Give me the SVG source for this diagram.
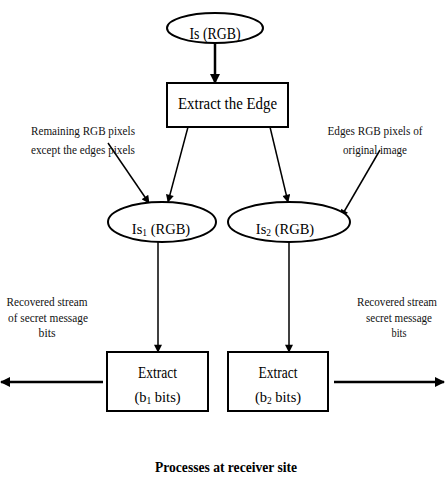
<svg xmlns="http://www.w3.org/2000/svg" width="445" height="479" viewBox="0 0 445 479">
<style>
  .shape { fill: #fff; stroke: #000; stroke-width: 2; }
  .main { font-family: "Liberation Serif", "Times New Roman", serif; font-size: 16px; fill: #000; text-anchor: middle; }
  .mid { font-size: 14.5px; }
  .lbl { font-family: "Liberation Serif", "Times New Roman", serif; font-size: 13px; fill: #111; text-anchor: middle; }
  .sub { font-size: 9.5px; }
  .edge { stroke: #000; stroke-width: 1.5; fill: none; marker-end: url(#ah); }
  .thick { stroke-width: 2.5; }
</style>
<defs>
  <marker id="ah" viewBox="0 0 10 10" refX="9" refY="5" markerWidth="9" markerHeight="8" markerUnits="userSpaceOnUse" orient="auto">
    <path d="M0,0 L10,5 L0,10 z" fill="#000"/>
  </marker>
  <marker id="ahB" viewBox="0 0 10 10" refX="9" refY="5" markerWidth="11" markerHeight="10" markerUnits="userSpaceOnUse" orient="auto">
    <path d="M0,0 L10,5 L0,10 z" fill="#000"/>
  </marker>
</defs>
<rect width="445" height="479" fill="#fff"/>
<g id="connectors">
  <line class="edge thick" x1="215" y1="43" x2="215" y2="83" style="marker-end:url(#ahB)"/>
  <line class="edge" x1="188" y1="127" x2="168" y2="202"/>
  <line class="edge" x1="270" y1="127" x2="288" y2="202"/>
  <line class="edge" x1="108" y1="143" x2="149" y2="203"/>
  <line class="edge" x1="380" y1="150" x2="341" y2="217"/>
  <line class="edge" x1="158" y1="242" x2="158" y2="352"/>
  <line class="edge" x1="289" y1="242" x2="289" y2="352"/>
  <line class="edge thick" x1="103" y1="382" x2="1" y2="382" style="marker-end:url(#ahB)"/>
  <line class="edge thick" x1="334" y1="382" x2="444" y2="382" style="marker-end:url(#ahB)"/>
</g>
<g id="node-is">
  <ellipse class="shape" cx="215" cy="28" rx="48" ry="15"/>
  <text class="main" x="215" y="39" textLength="51" lengthAdjust="spacingAndGlyphs">Is (RGB)</text>
</g>
<g id="node-extract-edge">
  <rect class="shape" x="167" y="83" width="121" height="44"/>
  <text class="main" x="227.5" y="109" textLength="99" lengthAdjust="spacingAndGlyphs">Extract the Edge</text>
</g>
<g id="node-is1">
  <ellipse class="shape" cx="162" cy="222" rx="54" ry="20"/>
  <text class="main mid" x="161" y="234">Is<tspan class="sub" dy="2">1</tspan><tspan dy="-2"> (RGB)</tspan></text>
</g>
<g id="node-is2">
  <ellipse class="shape" cx="289" cy="222" rx="61" ry="20"/>
  <text class="main mid" x="285" y="234">Is<tspan class="sub" dy="2">2</tspan><tspan dy="-2"> (RGB)</tspan></text>
</g>
<g id="node-extract-b1">
  <rect class="shape" x="107" y="352" width="101" height="59"/>
  <text class="main" x="157.5" y="378" textLength="39" lengthAdjust="spacingAndGlyphs">Extract</text>
  <text class="main mid" x="157.5" y="402">(b<tspan class="sub" dy="2">1</tspan><tspan dy="-2"> bits)</tspan></text>
</g>
<g id="node-extract-b2">
  <rect class="shape" x="228" y="352" width="100" height="59"/>
  <text class="main" x="278" y="378" textLength="39" lengthAdjust="spacingAndGlyphs">Extract</text>
  <text class="main mid" x="278" y="402">(b<tspan class="sub" dy="2">2</tspan><tspan dy="-2"> bits)</tspan></text>
</g>
<g id="label-remaining">
  <text class="lbl" x="83" y="135" textLength="104" lengthAdjust="spacingAndGlyphs">Remaining RGB pixels</text>
  <text class="lbl" x="83" y="154" textLength="104" lengthAdjust="spacingAndGlyphs">except the edges pixels</text>
</g>
<g id="label-edges">
  <text class="lbl" x="375" y="135" textLength="95" lengthAdjust="spacingAndGlyphs">Edges RGB pixels of</text>
  <text class="lbl" x="375" y="154" textLength="64" lengthAdjust="spacingAndGlyphs">original image</text>
</g>
<g id="label-recovered-left">
  <text class="lbl" x="47" y="306" textLength="81" lengthAdjust="spacingAndGlyphs">Recovered stream</text>
  <text class="lbl" x="48" y="322" textLength="80" lengthAdjust="spacingAndGlyphs">of secret message</text>
  <text class="lbl" x="47" y="337" textLength="17" lengthAdjust="spacingAndGlyphs">bits</text>
</g>
<g id="label-recovered-right">
  <text class="lbl" x="397" y="306" textLength="80" lengthAdjust="spacingAndGlyphs" style="font-size:12px">Recovered stream</text>
  <text class="lbl" x="399" y="322" textLength="66" lengthAdjust="spacingAndGlyphs">secret message</text>
  <text class="lbl" x="399" y="337" textLength="15" lengthAdjust="spacingAndGlyphs">bits</text>
</g>
<g id="title">
  <text class="main" x="226" y="472" textLength="142" lengthAdjust="spacingAndGlyphs" style="font-weight:bold;font-size:14px">Processes at receiver site</text>
</g>
</svg>
